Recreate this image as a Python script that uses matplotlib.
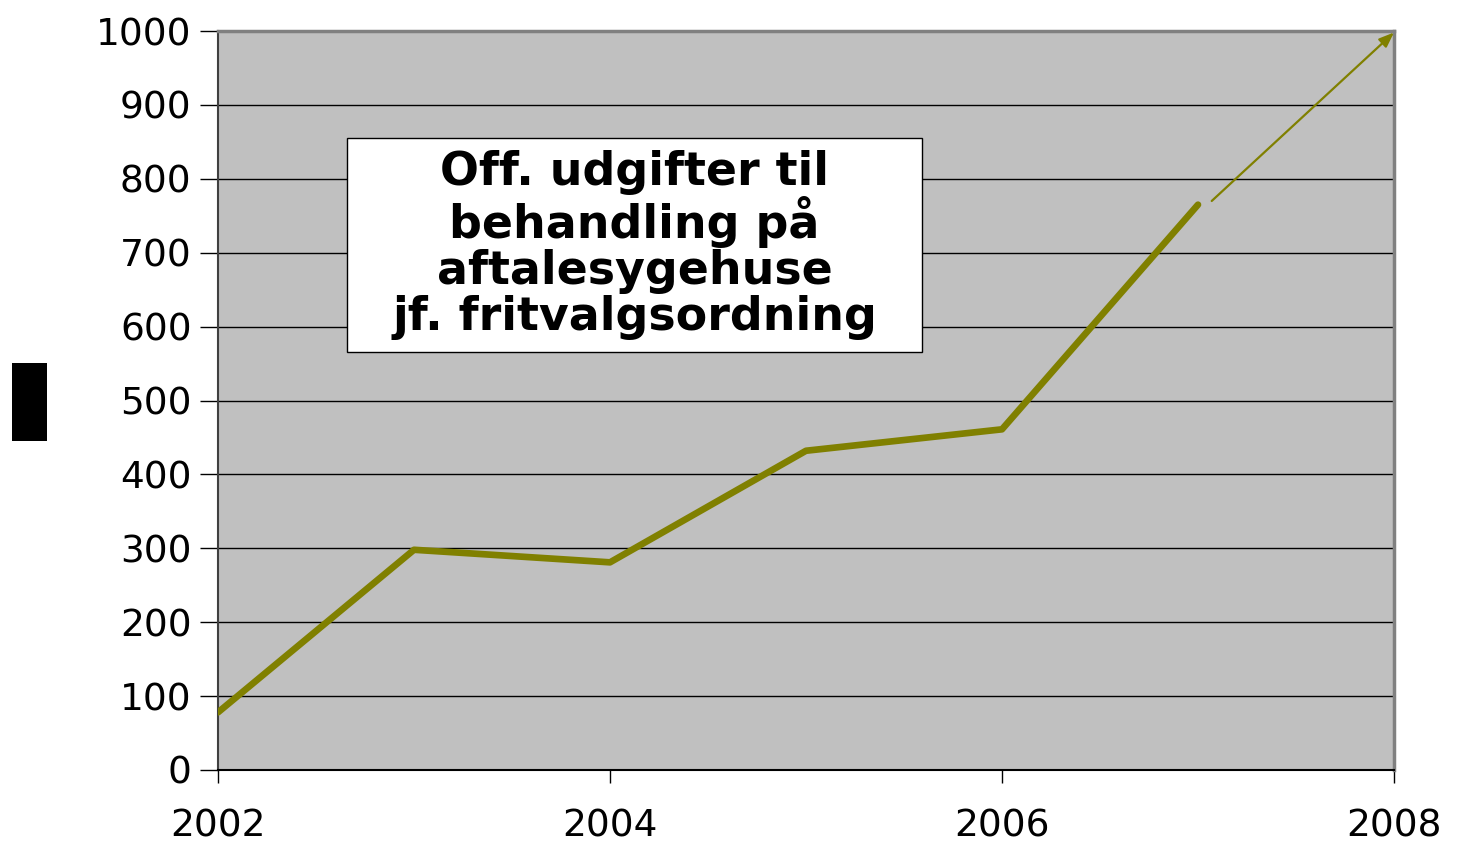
import numpy as np
import matplotlib.pyplot as plt
from matplotlib.patches import Rectangle

# data
years = [2002, 2003, 2004, 2005, 2006, 2007]
udgifter = [78, 298, 281, 432, 461, 765]
trend_start = (2007.07, 770)
trend_end = (2008, 998)
xticks = [2002, 2004, 2006, 2008]
yticks = list(range(0, 1001, 100))
title_text = "Off. udgifter til\nbehandling på\naftalesygehuse\njf. fritvalgsordning"

olive = "#808000"
W, H = 1467, 843

fig = plt.figure(figsize=(W / 100, H / 100), dpi=100)
ax = fig.add_axes([218 / W, 73 / H, (1394 - 218) / W, (770 - 31) / H])
ax.set_facecolor("#C0C0C0")

ax.plot(years, udgifter, color=olive, linewidth=4.8, solid_capstyle="round",
        solid_joinstyle="round", zorder=3)
ax.annotate("", xy=trend_end, xytext=trend_start,
            arrowprops=dict(arrowstyle="-|>,head_length=0.9,head_width=0.35",
                            color=olive, lw=1.6, shrinkA=0, shrinkB=0),
            annotation_clip=False, zorder=4)

ax.set_xlim(2002, 2008)
ax.set_ylim(0, 1000)
ax.set_xticks(xticks)
ax.set_yticks(yticks)
ax.tick_params(axis="y", direction="out", length=13, width=1, pad=6,
               labelsize=27, colors="black")
ax.tick_params(axis="x", direction="out", length=9, width=1, pad=19,
               labelsize=27, colors="black")
ax.yaxis.grid(True, color="black", linewidth=1)
ax.set_axisbelow(True)

for s in ["top", "right"]:
    ax.spines[s].set_color("#808080")
    ax.spines[s].set_linewidth(2.5)
ax.spines["left"].set_color("#404040")
ax.spines["left"].set_linewidth(1.5)
ax.spines["bottom"].set_color("black")
ax.spines["bottom"].set_linewidth(1.5)

# text box (axes fraction coordinates)
bx0, bx1 = (347 - 218) / 1176, (922 - 218) / 1176
by0, by1 = (770 - 352) / 739, (770 - 138) / 739
ax.add_patch(Rectangle((bx0, by0), bx1 - bx0, by1 - by0, transform=ax.transAxes,
                       facecolor="white", edgecolor="black", linewidth=1, zorder=5))
ax.text((bx0 + bx1) / 2, (by0 + by1) / 2, title_text, transform=ax.transAxes,
        ha="center", va="center", fontsize=33, fontweight="bold",
        linespacing=1.03, zorder=6)

# black y label block
fig.patches.append(Rectangle((12 / W, 1 - 441 / H), 35 / W, 78 / H,
                             transform=fig.transFigure, facecolor="black",
                             edgecolor="none"))

fig.savefig("out.png", dpi=100)
